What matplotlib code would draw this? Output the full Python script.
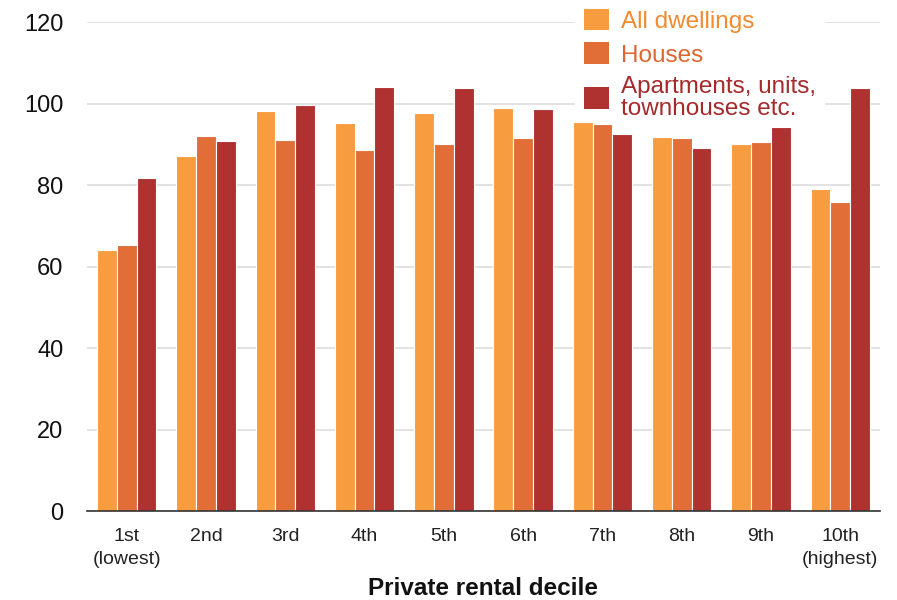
import matplotlib
matplotlib.use("Agg")
import matplotlib.pyplot as plt
import numpy as np
from matplotlib.patches import Patch

categories = ["1st\n(lowest)", "2nd", "3rd", "4th", "5th", "6th", "7th", "8th", "9th", "10th\n(highest)"]
all_dwellings = [64.0, 87.1, 98.2, 95.2, 97.7, 98.9, 95.5, 91.8, 90.1, 79.0]
houses = [65.3, 92.0, 91.0, 88.6, 90.1, 91.5, 95.0, 91.5, 90.6, 75.8]
apartments = [81.7, 90.8, 99.6, 104.0, 103.8, 98.7, 92.5, 89.1, 94.2, 103.8]
series_names = ["All dwellings", "Houses", "Apartments, units,\ntownhouses etc."]
colors = ["#F79D40", "#E06E36", "#B03230"]
text_colors = ["#F28A2E", "#DD6630", "#A6292B"]

plt.rcParams['font.family'] = ['Liberation Sans', 'DejaVu Sans']

fig = plt.figure(figsize=(8.97, 6.0), dpi=100)
ax = fig.add_axes([0.097, 0.148, 0.884, 0.815])

x = np.arange(len(categories))
w = 0.25
for i, (vals, c) in enumerate(zip([all_dwellings, houses, apartments], colors)):
    ax.bar(x + (i - 1) * w, vals, width=w, color=c, edgecolor="white", linewidth=0.8, zorder=3)

ax.set_xlim(-0.5, len(categories) - 0.5)
ax.set_ylim(0, 120)
ax.set_yticks([0, 20, 40, 60, 80, 100, 120])
ax.set_xticks(x)
ax.set_xticklabels(categories, fontsize=14, color="#222222", linespacing=1.45)
ax.tick_params(axis='y', labelsize=17, length=0, pad=17, colors="#111111")
ax.tick_params(axis='x', length=0, pad=12)
ax.grid(axis='y', color="#dddddd", linewidth=1.2, zorder=0)
ax.set_axisbelow(True)
for s in ["left", "right", "top"]:
    ax.spines[s].set_visible(False)
ax.spines["bottom"].set_color("#333333")
ax.spines["bottom"].set_linewidth(1.2)
ax.spines["bottom"].set_zorder(4)
ax.set_xlabel("Private rental decile", fontsize=17.5, fontweight="bold", color="#111111", labelpad=7)

handles = [Patch(facecolor=c, edgecolor="none") for c in colors]
leg = ax.legend(handles, series_names, loc="upper left",
                bbox_to_anchor=(575 / 897, 1.0), bbox_transform=fig.transFigure,
                frameon=True, facecolor="white", edgecolor="white", framealpha=1,
                fontsize=17.5, handlelength=1.03, handleheight=1.0, handletextpad=0.5,
                labelspacing=0.4, borderpad=0.35, borderaxespad=0)
for t, c in zip(leg.get_texts(), text_colors):
    t.set_color(c)
    t.set_linespacing(0.95)
leg.set_zorder(2)

fig.savefig("out.png", dpi=100)
